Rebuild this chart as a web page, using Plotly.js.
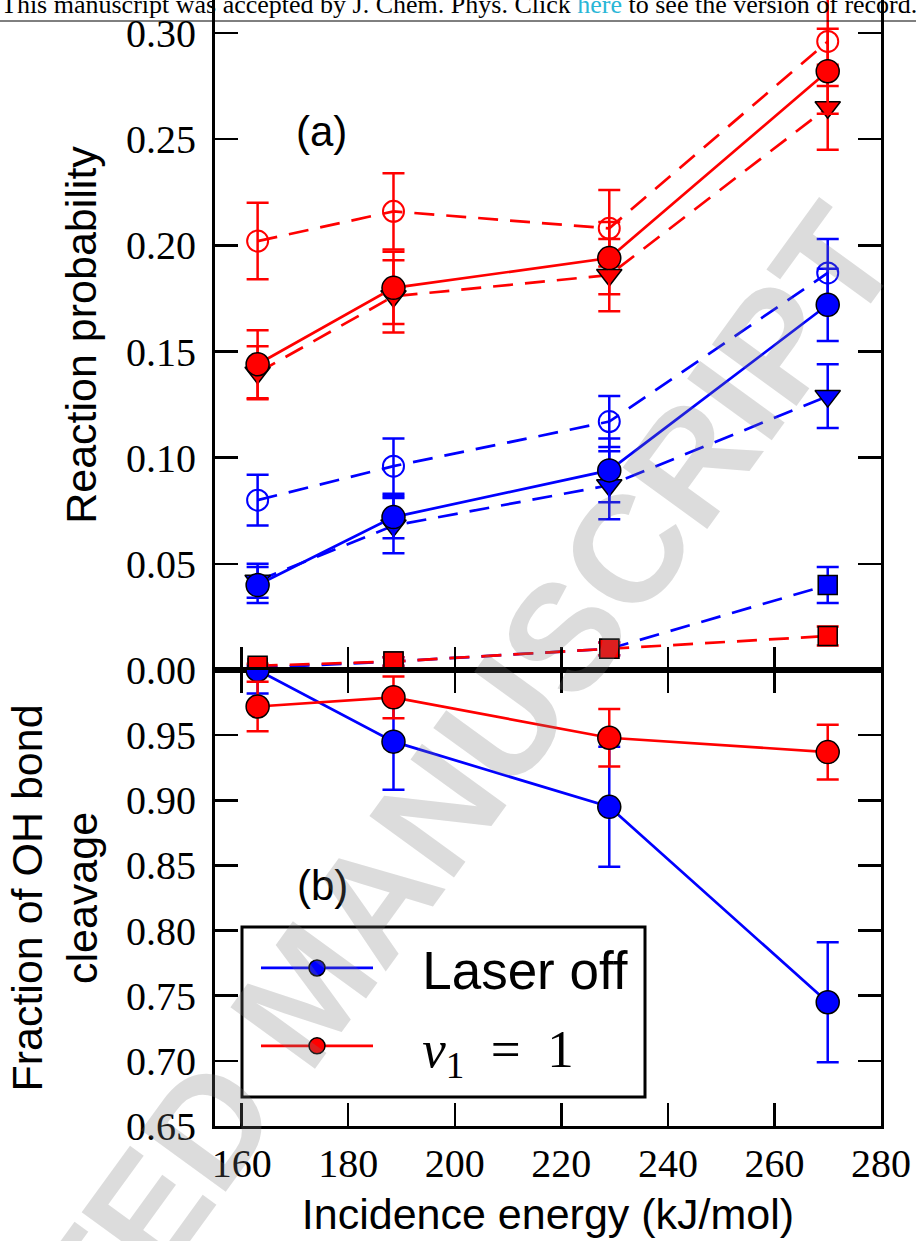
<!DOCTYPE html>
<html><head><meta charset="utf-8">
<script src="https://cdn.plot.ly/plotly-3.0.1.min.js"></script>
<style>html,body{margin:0;padding:0;background:#fff}#chart{width:916px;height:1241px}</style>
</head><body><div id="chart"></div>
<script>
// ---- data ----
const energy = [163, 188.5, 229, 270];
const xTicks = [160, 180, 200, 220, 240, 260, 280];
const yTicksA = [0.00, 0.05, 0.10, 0.15, 0.20, 0.25, 0.30];
const yTicksB = [0.65, 0.70, 0.75, 0.80, 0.85, 0.90, 0.95];

// panel (a): laser off (blue)
const offFilled = [0.040, 0.072, 0.094, 0.172];
const offFilledErr = [0.0085, 0.010, 0.015, 0.017];
const offOpen = [0.080, 0.096, 0.117, 0.187];
const offOpenErr = [0.012, 0.013, 0.012, 0.016];
const offTri = [0.042, 0.068, 0.087, 0.129];
const offTriErr = [0.008, 0.013, 0.016, 0.015];
const offSq = [0.001, 0.004, 0.010, 0.040];
const offSqErr = [0.001, 0.002, 0.003, 0.0085];

// panel (a): nu1 = 1 (red)
const onFilled = [0.144, 0.180, 0.194, 0.282];
const onFilledErr = [0.016, 0.017, 0.017, 0.020];
const onOpen = [0.202, 0.216, 0.208, 0.296];
const onOpenErr = [0.018, 0.018, 0.018, 0.021];
const onTri = [0.140, 0.176, 0.186, 0.265];
const onTriErr = [0.0125, 0.017, 0.017, 0.020];
const onSq = [0.002, 0.004, 0.010, 0.016];
const onSqErr = [0.001, 0.002, 0.003, 0.0045];

// panel (b): fraction of OH bond cleavage
const fracOff = [1.000, 0.945, 0.895, 0.745];
const fracOffErr = [0.018, 0.037, 0.046, 0.046];
const fracOn = [0.972, 0.979, 0.948, 0.937];
const fracOnErr = [0.019, 0.016, 0.022, 0.021];

const SP = '\u00a0\u00a0\u00a0';
const nameOff = SP + 'Laser off';
const nameOn = SP + '<span style="font-family:Liberation Serif"><i>ν</i><sub>1</sub>\u2002=\u20021</span>';

// ---- styling ----
const BLUE = '#0000ff', RED = '#ff0000';
const DASH = '20px,12px';

function mk(kind, color) {
  if (kind === 'open') return {symbol: 'circle-open', size: 21, color: color, line: {color: color, width: 2}};
  if (kind === 'tri') return {symbol: 'triangle-down', size: 22, color: color, line: {color: '#000', width: 1.5}};
  if (kind === 'sq') return {symbol: 'square', size: 19, color: color, line: {color: '#000', width: 1.5}};
  return {symbol: 'circle', size: 23, color: color, line: {color: '#000', width: 1.5}};
}
function tr(y, err, color, kind, dash, xa, ya, name, showlegend) {
  return {
    type: 'scatter', mode: 'lines+markers', x: energy, y: y, xaxis: xa, yaxis: ya,
    name: name || 'series', showlegend: !!showlegend, legendgroup: name || undefined,
    line: {color: color, width: 2.7, dash: dash},
    marker: mk(kind, color),
    error_y: {type: 'data', array: err, visible: true, color: color, thickness: 2.5, width: 11}
  };
}

const data = [
  tr(offOpen, offOpenErr, BLUE, 'open', DASH, 'x', 'y'),
  tr(offTri, offTriErr, BLUE, 'tri', DASH, 'x', 'y'),
  tr(offSq, offSqErr, BLUE, 'sq', DASH, 'x', 'y'),
  tr(offFilled, offFilledErr, BLUE, 'filled', 'solid', 'x', 'y'),
  tr(onOpen, onOpenErr, RED, 'open', DASH, 'x', 'y'),
  tr(onTri, onTriErr, RED, 'tri', DASH, 'x', 'y'),
  tr(onSq, onSqErr, RED, 'sq', DASH, 'x', 'y'),
  tr(onFilled, onFilledErr, RED, 'filled', 'solid', 'x', 'y'),
  tr(fracOff, fracOffErr, BLUE, 'filled', 'solid', 'x2', 'y2', nameOff, true),
  tr(fracOn, fracOnErr, RED, 'filled', 'solid', 'x2', 'y2', nameOn, true)
];

// pixel helpers (plot area: x 215..881, y 0..1126)
const L = 215, R = 881, T = 0, B = 1126;
const px = v => (v - L) / (R - L);
const py = v => (B - v) / (B - T);

const tickFont = {family: 'Liberation Serif', size: 40, color: '#000'};
const titleFont = {family: 'Liberation Sans', size: 43, color: '#000'};
const axBase = {
  showline: true, linecolor: '#000', linewidth: 3,
  ticks: 'inside', ticklen: 23, tickwidth: 2.5, tickcolor: '#000',
  showgrid: false, zeroline: false, tickfont: tickFont
};

const layout = {
  width: 916, height: 1241,
  margin: {l: L, r: 916 - R, t: T, b: 1241 - B},
  paper_bgcolor: '#fff', plot_bgcolor: '#fff',
  showlegend: true,
  xaxis: Object.assign({}, axBase, {
    domain: [0, 1], anchor: 'y', range: [155, 280], tickvals: xTicks,
    showticklabels: false, mirror: false
  }),
  yaxis: Object.assign({}, axBase, {
    domain: [py(670), 1], anchor: 'x', range: [0, 0.31554], tickvals: yTicksA,
    tickformat: '.2f', mirror: 'ticks', ticklabelstandoff: 8,
    title: {text: 'Reaction probability', font: titleFont, standoff: 16}
  }),
  xaxis2: Object.assign({}, axBase, {
    domain: [0, 1], anchor: 'y2', matches: 'x', range: [155, 280], tickvals: xTicks,
    mirror: 'ticks', ticklabelstandoff: 0,
    title: {text: 'Incidence energy (kJ/mol)', font: titleFont, standoff: 14}
  }),
  yaxis2: Object.assign({}, axBase, {
    domain: [0, py(670)], anchor: 'x2', range: [0.65, 1.0], tickvals: yTicksB,
    tickformat: '.2f', mirror: 'ticks', ticklabelstandoff: 8,
    title: {text: 'Fraction of OH bond<br>cleavage', font: titleFont, standoff: 15}
  }),
  legend: {
    x: px(256), y: py(927), xanchor: 'left', yanchor: 'top',
    bgcolor: 'rgba(0,0,0,0)', borderwidth: 0, itemwidth: 112, tracegroupgap: 6,
    font: {family: 'Liberation Sans', size: 53, color: '#000'}
  },
  shapes: [
    {type: 'rect', xref: 'paper', yref: 'paper', x0: px(242), x1: px(645), y0: py(1097), y1: py(927),
     line: {color: '#000', width: 3}, fillcolor: '#fff', layer: 'above'},
    {type: 'line', xref: 'paper', yref: 'paper', x0: px(0), x1: px(916), y0: py(21), y1: py(21),
     line: {color: '#000', width: 1}}
  ],
  annotations: [
    {xref: 'paper', yref: 'paper', x: px(321), y: py(131), xanchor: 'center', yanchor: 'middle',
     text: '(a)', showarrow: false, font: {family: 'Liberation Sans', size: 42, color: '#000'}},
    {xref: 'paper', yref: 'paper', x: px(322), y: py(885), xanchor: 'center', yanchor: 'middle',
     text: '(b)', showarrow: false, font: {family: 'Liberation Sans', size: 42, color: '#000'}},
    {xref: 'paper', yref: 'paper', x: px(459), y: py(21), xanchor: 'center', yanchor: 'bottom', showarrow: false,
     text: 'This manuscript was accepted by J. Chem. Phys. Click <span style="color:#29b6d6">here</span> to see the version of record.',
     font: {family: 'Liberation Serif', size: 26, color: '#000'}},
    {xref: 'paper', yref: 'paper', x: px(306), y: py(991), xanchor: 'center', yanchor: 'middle',
     showarrow: false, textangle: -54, text: 'ACCEPTED MANUSCRIPT',
     font: {family: 'Liberation Sans', size: 152, color: 'rgba(120,120,120,0.26)', weight: 'bold'}}
  ]
};

Plotly.newPlot('chart', data, layout, {staticPlot: true});
</script>
</body></html>
